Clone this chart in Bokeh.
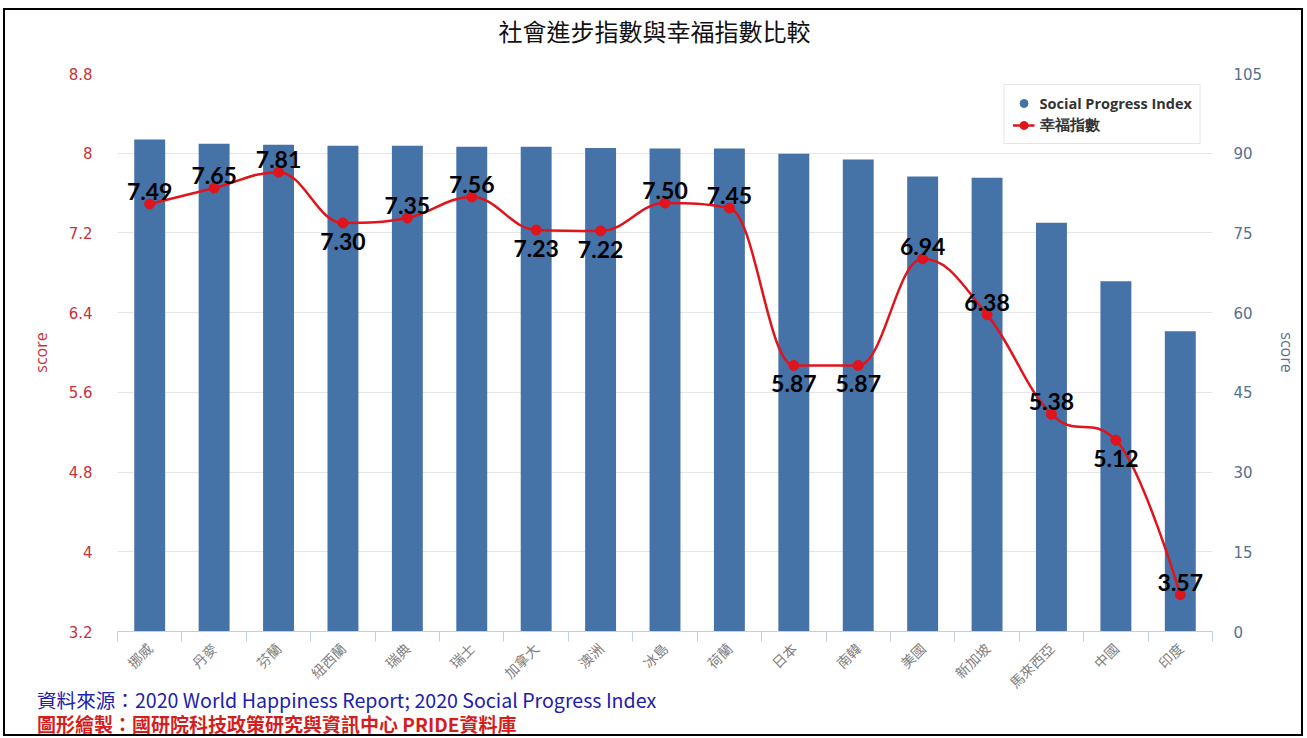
from math import pi, nan
from bokeh.plotting import figure
from bokeh.layouts import column
from bokeh.models import (ColumnDataSource, Range1d, LinearAxis, FixedTicker,
                          CustomJSTickFormatter, Legend, LegendItem, Div)
from bokeh.core.properties import value
from bokeh.embed import file_html
from bokeh.resources import INLINE

# ---------------- data ----------------
countries = ["挪威", "丹麥", "芬蘭", "紐西蘭", "瑞典", "瑞士", "加拿大", "澳洲", "冰島",
             "荷蘭", "日本", "南韓", "美國", "新加坡", "馬來西亞", "中國", "印度"]
spi = [92.6, 91.8, 91.6, 91.4, 91.4, 91.2, 91.2, 91.0, 90.9,
       90.9, 89.9, 88.8, 85.6, 85.4, 76.9, 65.9, 56.5]
happiness = [7.49, 7.65, 7.81, 7.30, 7.35, 7.56, 7.23, 7.22, 7.50,
             7.45, 5.87, 5.87, 6.94, 6.38, 5.38, 5.12, 3.57]
label_side = ["above", "above", "above", "below", "above", "above", "below", "below", "above",
              "above", "below", "below", "above", "above", "above", "below", "above"]
left_ticks = [3.2, 4.0, 4.8, 5.6, 6.4, 7.2, 8.0, 8.8]
right_ticks = [0, 15, 30, 45, 60, 75, 90, 105]

title_text = "社會進步指數與幸福指數比較"
source_text = "資料來源：2020 World Happiness Report; 2020 Social Progress Index"
credit_text = "圖形繪製：國研院科技政策研究與資訊中心 PRIDE資料庫"

# ---------------- styles ----------------
BAR = "#4572A7"
RED = "#e0141c"
LEFT_C = "#c8323a"
RIGHT_C = "#56708e"
GRID = "#e6e6e6"
AXIS_C = "#c0d0e0"
CJK = "Noto Sans CJK TC"
W = 1296
FRAME_L, FRAME_R = 117, 1212   # page x of the plot frame (strip frames align to it)

n = len(countries)
xs = list(range(n))

# ---------- title strip ----------
top = figure(width=W, height=53, output_backend="svg", toolbar_location=None,
             x_range=Range1d(FRAME_L, FRAME_R), y_range=Range1d(0, 53),
             x_axis_type=None, y_axis_type=None, min_border=0, tools="")
top.outline_line_color = None
top.background_fill_color = "white"
top.border_fill_color = "white"
top.text([654], [33], text=[title_text], text_align="center", text_baseline="middle",
         text_font=value(CJK), text_font_size="24px", text_color="#111111")

# ---------- main chart ----------
p = figure(width=W, height=639, output_backend="svg", toolbar_location=None,
           x_range=Range1d(-0.5, n - 0.5), y_range=Range1d(left_ticks[0], left_ticks[-1]),
           min_border_left=112, min_border_right=89, min_border_top=10, min_border_bottom=71,
           tools="")
p.outline_line_color = None
p.background_fill_color = "white"
p.border_fill_color = "white"

p.extra_y_ranges = {"right": Range1d(right_ticks[0], right_ticks[-1])}

# bars
bar_src = ColumnDataSource(dict(x=xs, top=spi))
p.vbar(x="x", top="top", width=0.48, bottom=0, source=bar_src, y_range_name="right",
       fill_color=BAR, line_color=None)

# spline (Highcharts-like) in data space
def controls(pts):
    sm, den = 1.5, 2.5
    left, right = [None] * len(pts), [None] * len(pts)
    for i, (px, py) in enumerate(pts):
        if 0 < i < len(pts) - 1:
            lx, ly = pts[i - 1]
            nx, ny = pts[i + 1]
            lcx = (sm * px + lx) / den
            lcy = (sm * py + ly) / den
            rcx = (sm * px + nx) / den
            rcy = (sm * py + ny) / den
            if rcx != lcx:
                corr = ((rcy - lcy) * (rcx - px)) / (rcx - lcx) + py - rcy
                lcy += corr
                rcy += corr
            if lcy > ly and lcy > py:
                lcy = max(ly, py); rcy = 2 * py - lcy
            elif lcy < ly and lcy < py:
                lcy = min(ly, py); rcy = 2 * py - lcy
            if rcy > ny and rcy > py:
                rcy = max(ny, py); lcy = 2 * py - rcy
            elif rcy < ny and rcy < py:
                rcy = min(ny, py); lcy = 2 * py - rcy
            left[i] = (lcx, lcy)
            right[i] = (rcx, rcy)
        else:
            left[i] = (px, py)
            right[i] = (px, py)
    return left, right

pts = list(zip(xs, happiness))
lc, rc = controls(pts)
bz = dict(x0=[], y0=[], x1=[], y1=[], cx0=[], cy0=[], cx1=[], cy1=[])
for i in range(1, n):
    bz["x0"].append(pts[i - 1][0]); bz["y0"].append(pts[i - 1][1])
    bz["x1"].append(pts[i][0]); bz["y1"].append(pts[i][1])
    bz["cx0"].append(rc[i - 1][0]); bz["cy0"].append(rc[i - 1][1])
    bz["cx1"].append(lc[i][0]); bz["cy1"].append(lc[i][1])
p.bezier(source=ColumnDataSource(bz), x0="x0", y0="y0", x1="x1", y1="y1",
         cx0="cx0", cy0="cy0", cx1="cx1", cy1="cy1", line_color=RED, line_width=2.5)
dots = p.scatter(xs, happiness, size=10, fill_color=RED, line_color=RED)

# data labels
above = [i for i in range(n) if label_side[i] == "above"]
below = [i for i in range(n) if label_side[i] == "below"]
lab_font = value("Lato")
p.text([xs[i] for i in above], [happiness[i] for i in above],
       text=[f"{happiness[i]:.2f}" for i in above], text_align="center", text_baseline="bottom",
       y_offset=-4, text_font=lab_font, text_font_style="bold", text_font_size="23px",
       text_color="#000000")
p.text([xs[i] for i in below], [happiness[i] for i in below],
       text=[f"{happiness[i]:.2f}" for i in below], text_align="center", text_baseline="top",
       y_offset=10, text_font=lab_font, text_font_style="bold", text_font_size="23px",
       text_color="#000000")

# grid
p.xgrid.visible = False
p.ygrid.ticker = FixedTicker(ticks=left_ticks)
p.ygrid.grid_line_color = GRID
p.ygrid.grid_line_width = 1

fmt = CustomJSTickFormatter(code="return String(Math.round(tick*10)/10)")

# left axis
ya = p.yaxis[0]
ya.ticker = FixedTicker(ticks=left_ticks)
ya.formatter = fmt
ya.axis_line_color = None
ya.major_tick_line_color = None
ya.minor_tick_line_color = None
ya.major_label_standoff = 19
ya.major_label_text_color = LEFT_C
ya.major_label_text_font = "DejaVu Sans"
ya.major_label_text_font_size = "15px"
ya.axis_label = "score"
ya.axis_label_text_color = LEFT_C
ya.axis_label_text_font = "Open Sans"
ya.axis_label_text_font_style = "normal"
ya.axis_label_text_font_size = "16px"
ya.axis_label_standoff = 14

# right axis
ra = LinearAxis(y_range_name="right", ticker=FixedTicker(ticks=right_ticks))
ra.axis_line_color = None
ra.major_tick_line_color = None
ra.minor_tick_line_color = None
ra.major_label_standoff = 15
ra.major_label_text_color = RIGHT_C
ra.major_label_text_font = "DejaVu Sans"
ra.major_label_text_font_size = "15px"
ra.axis_label = "score"
ra.axis_label_text_color = RIGHT_C
ra.axis_label_text_font = "Open Sans"
ra.axis_label_text_font_style = "normal"
ra.axis_label_text_font_size = "16px"
ra.axis_label_standoff = 11
p.add_layout(ra, "right")

# x axis
xa = p.xaxis[0]
xa.ticker = FixedTicker(ticks=xs, minor_ticks=[i - 0.5 for i in range(n + 1)])
xa.major_label_overrides = {i: c for i, c in enumerate(countries)}
xa.major_tick_line_color = None
xa.minor_tick_line_color = AXIS_C
xa.minor_tick_out = 10
xa.minor_tick_in = 0
xa.axis_line_color = AXIS_C
xa.major_label_orientation = pi / 4
xa.major_label_standoff = 4
xa.major_label_text_color = "#808080"
xa.major_label_text_font = CJK
xa.major_label_text_font_size = "14px"

# legend
blue_dummy = p.scatter([nan], [nan], size=16, fill_color=BAR, line_color=BAR)
red_line_dummy = p.line([nan, nan], [nan, nan], line_color=RED, line_width=2.5)
legend = Legend(items=[LegendItem(label="Social Progress Index", renderers=[blue_dummy]),
                       LegendItem(label="幸福指數", renderers=[red_line_dummy, dots])],
                location="top_right", margin=11, padding=8, spacing=2, glyph_width=22,
                label_text_font="Open Sans", label_text_font_style="bold",
                label_text_font_size="14.5px", label_text_color="#333333",
                border_line_color="#cccccc", background_fill_color="white",
                background_fill_alpha=1.0)
p.add_layout(legend)

# ---------- notes ----------
notes_html = (
    f'<div style="position:relative;top:-13px;margin-left:32px;width:800px;'
    f'white-space:nowrap;font-family:\'{CJK}\';line-height:21px;">'
    f'<span style="color:#2020b0;font-size:19.6px;">{source_text}</span><br>'
    f'<span style="color:#d41e1e;font-size:19px;font-weight:bold;">{credit_text}</span>'
    f'</div>'
)
notes = Div(text=notes_html, width=W, height=32, margin=0,
            styles={"overflow": "visible"})

page = column(top, p, notes, spacing=0)
page.styles = {"border": "2px solid black", "margin-left": "3px", "margin-top": "8px",
               "background-color": "white"}

open("out.html", "w").write(file_html(page, INLINE))
